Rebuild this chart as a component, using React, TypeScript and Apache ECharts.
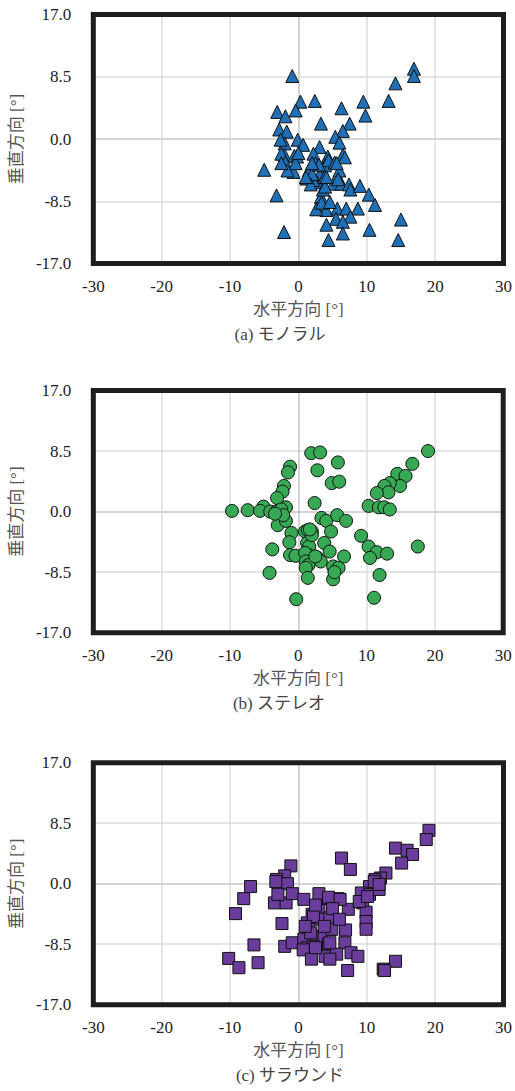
import React, { useEffect, useRef } from "react";
import * as echarts from "echarts";

const xTickInterval = 10;
const yTickInterval = 8.5;
const xMin = -30;
const xMax = 30;
const yMin = -17;
const yMax = 17;
const captions = ["(a) モノラル", "(b) ステレオ", "(c) サラウンド"];
const xName = "水平方向 [°]";
const yName = "垂直方向 [°]";

const monoral: number[][] = [
  [-0.9, 8.6], [16.9, 9.6], [16.9, 8.6], [14.2, 7.6], [13.2, 5.2], [9.5, 5.1], [9.8, 3.2], [6.3, 4.2],
  [7.5, 2.1], [6.5, 1.1], [5.4, 0.3], [6.0, -0.5], [2.4, 5.2], [0.3, 5.1], [-0.4, 3.9], [3.3, 2.1],
  [-3.1, 3.7], [-1.9, 3.1], [-2.8, 1.3], [-1.7, 1.0], [-2.0, -0.6], [-2.6, -0.1], [-0.1, -0.1], [0.7, -0.8],
  [3.1, -1.1], [2.2, -2.0], [4.3, -2.4], [6.5, -2.2], [-2.0, -2.2], [-0.6, -2.3], [-2.5, -2.0], [-0.2, -2.4],
  [-5.0, -4.2], [-3.2, -7.7], [-2.1, -12.7], [-1.9, -3.2], [-0.7, -4.5], [-0.4, -3.3], [-1.6, -4.3], [-2.5, -3.3],
  [1.2, -5.4], [1.5, -4.3], [2.5, -3.3], [3.1, -4.8], [2.7, -5.9], [2.2, -5.6], [3.9, -3.6], [4.4, -2.9],
  [5.3, -3.2], [6.8, -2.5], [6.0, -4.3], [5.1, -6.1], [6.3, -6.1], [7.4, -6.2], [7.6, -6.9], [9.0, -6.4],
  [10.3, -7.6], [11.2, -9.0], [3.3, -7.9], [3.6, -6.9], [2.8, -9.5], [4.1, -9.7], [3.9, -6.5], [5.7, -9.5],
  [5.5, -10.9], [7.0, -9.5], [8.7, -9.5], [7.6, -10.6], [6.5, -11.3], [4.1, -11.7], [6.5, -12.9], [4.4, -13.8],
  [10.4, -12.4], [15.0, -11.0], [14.6, -13.8], [2.6, -9.6], [3.4, -8.7], [4.6, -8.6], [2.0, -4.8], [1.8, -6.2],
  [3.8, -5.2], [5.8, -5.5], [0.0, -1.9], [3.0, -3.5], [2.0, -3.3], [4.1, -5.2], [5.6, -3.3], [1.1, -5.2]
];

const stereo: number[][] = [
  [19.0, 8.5], [16.7, 6.7], [14.5, 5.3], [15.7, 5.0], [14.9, 3.6], [13.4, 4.0], [12.6, 3.6], [13.2, 2.7],
  [11.5, 2.6], [10.3, 0.8], [11.8, 0.6], [12.6, 0.6], [13.4, 0.3], [1.9, 8.2], [3.2, 8.3], [5.8, 6.9],
  [2.8, 5.8], [4.9, 4.0], [6.0, 4.2], [2.4, 1.2], [-1.2, 6.3], [-1.5, 5.5], [-2.1, 3.6], [-2.3, 2.8],
  [-3.1, 1.9], [-1.8, 0.6], [-9.7, 0.1], [-7.4, 0.2], [-5.1, 0.7], [-5.6, 0.1], [-4.1, 0.0], [-3.2, 0.0],
  [-2.5, 0.3], [-3.0, -1.9], [-1.8, -1.3], [-1.0, -3.0], [-1.3, -4.3], [-3.8, -5.3], [-1.2, -6.1], [-0.4, -6.2],
  [-4.2, -8.6], [-0.3, -12.3], [1.0, -2.8], [2.0, -2.8], [1.4, -2.6], [1.3, -4.4], [1.6, -4.9], [2.0, -3.3],
  [1.5, -6.1], [1.0, -5.8], [2.7, -6.4], [3.3, -7.0], [1.1, -7.0], [1.5, -7.5], [1.1, -7.9], [1.4, -9.3],
  [3.4, -0.9], [4.1, -1.3], [5.7, -0.5], [7.0, -1.3], [4.8, -2.8], [3.8, -4.4], [4.6, -5.6], [6.7, -6.3],
  [5.1, -7.7], [5.9, -7.9], [5.1, -9.5], [5.3, -8.5], [9.2, -3.4], [10.3, -4.9], [11.5, -5.7], [13.0, -5.9],
  [10.5, -6.5], [17.5, -4.9], [11.9, -8.9], [11.1, -12.1], [2.5, -6.3], [-2.2, -0.5], [-3.4, -0.3], [1.7, -2.5]
];

const surround: number[][] = [
  [19.1, 7.5], [18.7, 6.2], [14.2, 5.0], [15.9, 4.7], [16.7, 4.1], [15.1, 2.9], [12.8, 1.5], [12.0, 0.8],
  [11.2, 0.6], [10.4, -0.4], [6.3, 3.6], [7.6, 2.0], [-1.1, 2.5], [-2.0, 1.1], [-3.2, 0.6], [-1.6, 0.0],
  [-3.3, 0.3], [-7.0, -0.4], [-8.0, -2.1], [-9.2, -4.2], [-2.4, -5.6], [-6.5, -8.6], [-10.2, -10.5], [-8.7, -11.8],
  [-5.9, -11.1], [-2.0, -8.8], [-0.9, -8.3], [-3.5, -2.7], [-1.8, -2.7], [-3.0, -1.5], [-0.9, -1.4], [0.8, -2.2],
  [3.0, -3.3], [4.2, -2.1], [5.8, -2.1], [3.2, -2.0], [3.0, -1.4], [4.4, -1.9], [7.3, -3.6], [2.0, -4.3],
  [1.3, -5.5], [1.5, -6.4], [3.4, -5.0], [4.6, -6.4], [3.4, -7.4], [2.0, -7.4], [0.8, -7.8], [1.3, -9.0],
  [2.2, -8.8], [4.4, -8.5], [6.8, -8.3], [6.9, -6.5], [0.7, -9.3], [1.9, -10.6], [3.9, -10.2], [5.6, -9.9],
  [7.7, -9.7], [8.7, -10.2], [7.2, -12.2], [9.4, -2.7], [9.9, -4.0], [9.9, -5.3], [9.9, -6.4], [9.2, -1.3],
  [10.4, -1.5], [11.8, -0.8], [11.1, 0.3], [11.8, -0.1], [12.4, -12.0], [14.2, -10.9], [8.9, -2.5], [10.1, -1.8],
  [2.2, -4.6], [4.6, -4.8], [4.9, -6.4], [1.8, -6.9], [4.6, -10.6], [2.5, -9.0], [4.6, -8.3], [6.1, -2.2],
  [2.5, -3.0], [5.0, -3.5], [1.0, -6.0], [3.8, -6.0], [6.0, -5.0], [12.6, -12.2]
];

const seriesData = [monoral, stereo, surround];
const seriesSymbols = ["triangle", "circle", "rect"];
const seriesColors = ["#1f70b6", "#37a854", "#6a3d9c"];
const seriesSizes = [13, 13, 12];

const FONT = "'Liberation Serif', 'Times New Roman', 'Noto Sans CJK JP', serif";

const grids = [
  { left: 84.5, top: 14.5, width: 420, height: 249 },
  { left: 82.7, top: 390.5, width: 420.5, height: 242.2 },
  { left: 87, top: 762.7, width: 417.8, height: 242 },
];

export default function App() {
  const ref = useRef<HTMLDivElement>(null);
  useEffect(() => {
    if (!ref.current) return;
    const chart = echarts.init(ref.current, undefined, { renderer: "svg" });
    const splitColorsX = ["#dcdcdc", "#dcdcdc", "#dcdcdc", "#c6c6c6", "#dcdcdc", "#dcdcdc", "#dcdcdc"];
    const splitColorsY = ["#dcdcdc", "#dcdcdc", "#c6c6c6", "#dcdcdc", "#dcdcdc"];
    const option: any = {
      animation: false,
      backgroundColor: "#ffffff",
      textStyle: { fontFamily: FONT },
      grid: grids.map((g) => ({
        ...g,
        show: true,
        borderColor: "#1e1e1e",
        borderWidth: 5,
        backgroundColor: "transparent",
        containLabel: false,
        z: 10,
      })),
      xAxis: grids.map((_, i) => ({
        type: "value",
        gridIndex: i,
        min: xMin,
        max: xMax,
        interval: xTickInterval,
        axisLine: { show: false },
        axisTick: { show: false },
        axisLabel: {
          margin: 14,
          fontSize: 17,
          color: "#222",
          fontFamily: FONT,
          showMinLabel: true,
          showMaxLabel: true,
        },
        splitLine: { show: true, lineStyle: { color: splitColorsX, width: 1.5 } },
        name: xName,
        nameLocation: "middle",
        nameGap: 37,
        nameTextStyle: { fontSize: 17, color: "#555", fontFamily: FONT },
      })),
      yAxis: grids.map((_, i) => ({
        type: "value",
        gridIndex: i,
        min: yMin,
        max: yMax,
        interval: yTickInterval,
        axisLine: { show: false },
        axisTick: { show: false },
        axisLabel: {
          margin: 22,
          fontSize: 17,
          color: "#222",
          fontFamily: FONT,
          formatter: (v: number) => v.toFixed(1),
          showMinLabel: true,
          showMaxLabel: true,
        },
        splitLine: { show: true, lineStyle: { color: splitColorsY, width: 1.5 } },
        name: yName,
        nameLocation: "middle",
        nameRotate: 90,
        nameGap: 59,
        nameTextStyle: { fontSize: 17, color: "#555", fontFamily: FONT },
      })),
      series: seriesData.map((d, i) => ({
        type: "scatter",
        xAxisIndex: i,
        yAxisIndex: i,
        data: d,
        symbol: seriesSymbols[i],
        symbolSize: seriesSizes[i],
        itemStyle: { color: seriesColors[i], borderColor: "#111", borderWidth: 1, opacity: 1 },
        z: 5,
      })),
      graphic: grids.map((g, i) => ({
        type: "text",
        left: g.left + g.width / 2 - 60,
        top: g.top + g.height + 62,
        style: {
          text: captions[i],
          fontSize: 17,
          fill: "#444",
          fontFamily: FONT,
          width: 120,
          align: "center",
        },
      })),
    };
    chart.setOption(option);
    return () => chart.dispose();
  }, []);
  return (
    <div
      ref={ref}
      style={{ position: "absolute", left: 0, top: 0, width: 515, height: 1091 }}
    />
  );
}
